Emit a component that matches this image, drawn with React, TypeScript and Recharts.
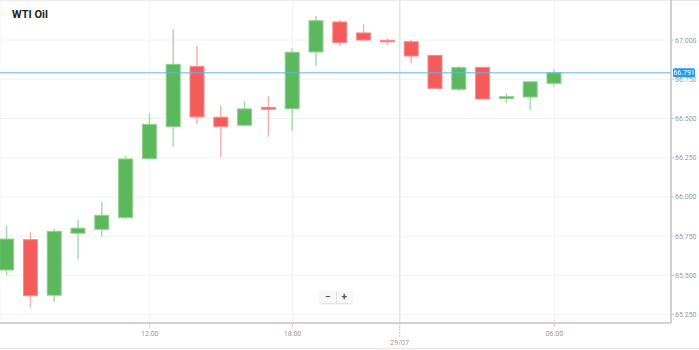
import { Bar, CartesianGrid, ComposedChart, ReferenceLine, XAxis, YAxis } from "recharts";

const times = [
  "06:00", "07:00", "08:00", "09:00", "10:00", "11:00", "12:00", "13:00", "14:00", "15:00", "16:00", "17:00",
  "18:00", "19:00", "20:00", "21:00", "22:00", "00:00", "01:00", "02:00", "03:00", "04:00", "05:00", "06:00",
];
const opens = [
  65.535, 65.728, 65.374, 65.769, 65.794, 65.868, 66.244, 66.448, 66.832, 66.508, 66.457, 66.571,
  66.562, 66.924, 67.115, 67.045, 66.998, 66.989, 66.902, 66.686, 66.826, 66.626, 66.637, 66.724,
];
const highs = [
  65.817, 65.775, 65.798, 65.854, 65.97, 66.263, 66.533, 67.07, 66.962, 66.584, 66.611, 66.643,
  66.947, 67.153, 67.127, 67.102, 67.011, 67.0, 66.904, 66.834, 66.828, 66.66, 66.739, 66.813,
];
const lows = [
  65.503, 65.297, 65.333, 65.603, 65.747, 65.86, 66.24, 66.32, 66.465, 66.257, 66.448, 66.384,
  66.422, 66.836, 66.962, 66.998, 66.968, 66.852, 66.69, 66.675, 66.622, 66.597, 66.552, 66.703,
];
const closes = [
  65.732, 65.371, 65.781, 65.801, 65.883, 66.242, 66.463, 66.845, 66.51, 66.448, 66.561, 66.559,
  66.922, 67.123, 66.983, 67.0, 66.989, 66.898, 66.692, 66.824, 66.624, 66.639, 66.734, 66.791,
];

const yTicks = [65.25, 65.5, 65.75, 66.0, 66.25, 66.5, 66.75, 67.0];
const xTicks = [6, 12, 16.5, 23];
const xTickLabels: Record<number, string> = { 6: "12:00", 12: "18:00", 16.5: "29/07", 23: "06:00" };
const dayBreak = 16.5;
const lastPrice = closes[closes.length - 1];

const data = times.map((t, i) => ({
  idx: i,
  time: t,
  open: opens[i],
  high: highs[i],
  low: lows[i],
  close: closes[i],
  range: [lows[i], highs[i]],
}));

const GREEN = "#5cb85c";
const RED = "#f45b5b";

const Candle = (props: any) => {
  const { x, y, width, height, payload } = props;
  if (x == null || payload == null) return null;
  const top = Math.min(y, y + height);
  const h = Math.abs(height);
  const { open, close, high, low } = payload;
  const ratio = h / (high - low || 1);
  const up = close >= open;
  const bodyTop = top + (high - Math.max(open, close)) * ratio;
  const bodyH = Math.max(Math.abs(open - close) * ratio, 1.5);
  const cx = x + width / 2;
  return (
    <g>
      <line x1={cx} x2={cx} y1={top} y2={top + h} stroke={up ? "#a9dba9" : "#f9b0b0"} strokeWidth={1.5} />
      <rect
        x={x + 0.5}
        y={bodyTop}
        width={width - 1}
        height={bodyH}
        fill={up ? GREEN : RED}
        stroke={up ? "#8fd18f" : "#f88c8c"}
        strokeWidth={1}
      />
    </g>
  );
};

const XTick = (props: any) => {
  const { x, payload } = props;
  const v = payload.value;
  const isDay = v === dayBreak;
  return (
    <g>
      <line x1={x} x2={x} y1={323} y2={isDay ? 337 : 327} stroke="#c8c8c8" strokeDasharray={isDay ? "2 1" : undefined} />
      <text x={x} y={isDay ? 345 : 336} textAnchor="middle" fontSize={7} fill="#999" fontFamily="Roboto, sans-serif">
        {xTickLabels[v]}
      </text>
    </g>
  );
};

const PriceLabel = (props: any) => {
  const { viewBox } = props;
  if (!viewBox) return null;
  const lx = viewBox.x + viewBox.width + 2;
  const ly = viewBox.y;
  return (
    <g>
      <rect x={lx} y={ly - 4.5} width={22} height={9} rx={1.5} fill="#1e9cf0" />
      <text x={lx + 11} y={ly + 2.5} textAnchor="middle" fontSize={7} fill="#fff" fontFamily="Roboto, sans-serif">
        {lastPrice.toFixed(3)}
      </text>
    </g>
  );
};

export default function App() {
  return (
    <div style={{ position: "absolute", left: 0, top: 0, width: 699, height: 350, background: "#fff", fontFamily: "Roboto, sans-serif" }}>
      <div style={{ position: "absolute", left: 0, top: 0, width: 699, height: 1, background: "#e6e6e6" }} />
      <div style={{ position: "absolute", left: 0, top: 348, width: 699, height: 1, background: "#e6e6e6" }} />
      <ComposedChart width={699} height={350} data={data} margin={{ top: 0, right: 0, bottom: 0, left: 0 }}>
        <CartesianGrid stroke="#f2f2f2" strokeWidth={1} />
        <XAxis
          dataKey="idx"
          type="number"
          domain={[-0.294, 27.9]}
          ticks={xTicks}
          height={27}
          interval={0}
          axisLine={{ stroke: "#c4c4c4", strokeWidth: 1.5 }}
          tickLine={false}
          tick={<XTick />}
          allowDataOverflow
        />
        <YAxis
          orientation="right"
          width={28}
          domain={[65.197, 67.255]}
          ticks={yTicks}
          interval={0}
          allowDataOverflow
          axisLine={{ stroke: "#c4c4c4", strokeWidth: 1.5 }}
          tickLine={{ stroke: "#c8c8c8" }}
          tickSize={3}
          tickMargin={1}
          tick={{ fontSize: 7, fill: "#999", fontFamily: "Roboto, sans-serif" }}
          tickFormatter={(v: number) => v.toFixed(3)}
        />
        <ReferenceLine x={dayBreak} stroke="#e4e4e4" strokeWidth={1.5} />
        <Bar dataKey="range" barSize={15} shape={<Candle />} isAnimationActive={false} />
        <ReferenceLine y={lastPrice} stroke="#5ab8f5" strokeWidth={1} label={<PriceLabel />} />
      </ComposedChart>
      <div style={{ position: "absolute", left: 12, top: 8, fontSize: 11, fontWeight: 700, color: "#222", fontFamily: "Roboto, sans-serif" }}>
        WTI Oil
      </div>
      <div
        style={{
          position: "absolute",
          left: 320,
          top: 291,
          width: 32,
          height: 12,
          display: "flex",
          background: "#f7f7f7",
          boxShadow: "0 1px 2px rgba(0,0,0,0.15)",
          borderRadius: 2,
          fontSize: 10,
          fontWeight: 700,
          color: "#555",
          lineHeight: "12px",
        }}
      >
        <div style={{ flex: 1, textAlign: "center", borderRight: "1px solid #e2e2e2" }}>−</div>
        <div style={{ flex: 1, textAlign: "center" }}>+</div>
      </div>
    </div>
  );
}
